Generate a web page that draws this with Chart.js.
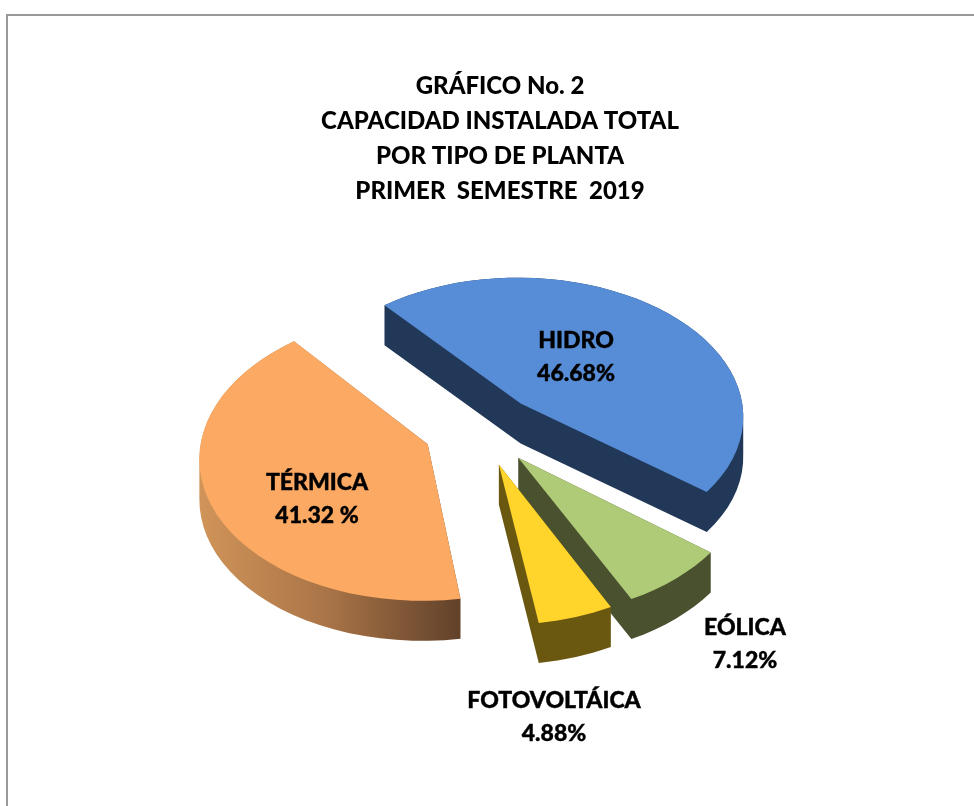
<!DOCTYPE html>
<html>
<head>
<meta charset="utf-8">
<style>
html,body{margin:0;padding:0;background:#fff;width:974px;height:806px;overflow:hidden}
#frame{position:absolute;left:6px;top:14px;width:974px;height:800px;border-left:2px solid #999;border-top:2px solid #999}
canvas{position:absolute;left:0;top:0}
</style>
<script src="https://cdn.jsdelivr.net/npm/chart.js@4/dist/chart.umd.min.js"></script>
</head>
<body>
<div id="frame"></div>
<canvas id="c" width="974" height="806"></canvas>
<script>
const titleLines = ["GRÁFICO No. 2","CAPACIDAD INSTALADA TOTAL","POR TIPO DE PLANTA","PRIMER  SEMESTRE  2019"];
const categories = ["HIDRO","EÓLICA","FOTOVOLTÁICA","TÉRMICA"];
const values = [46.68,7.12,4.88,41.32];
const valueLabels = ["46.68%","7.12%","4.88%","41.32 %"];
const topColors = ["#568DD6","#AFCB77","#FFD52B","#FBA963"];
const wallColors = ["#223859","#49512F","#6B5810",null];

const view = {shiftX:-19, tilt:0.625, persp:0.085, depth:40, steps:96};
const labelPos = [[576,341],[745,628],[554,701],[317,483]];
const lineGap = 33;

function project(u,v,cx,cy,R){
  const f = 1/(1 - view.persp*v/R);
  return [cx + view.shiftX + u*f, cy + view.tilt*v*f];
}
function area(q){
  let a=0;
  for(let i=0;i<q.length;i++){const n=q[(i+1)%q.length];a+=q[i][0]*n[1]-n[0]*q[i][1];}
  return a;
}
const pie3d = {
  id:'pie3d',
  beforeDatasetsDraw(chart){
    const ctx = chart.ctx;
    const arcs = chart.getDatasetMeta(0).data;
    const polys = arcs.map(arc=>{
      const p = arc.getProps(['x','y','startAngle','endAngle','outerRadius'],true);
      const off = arc.options.offset, mid=(p.startAngle+p.endAngle)/2;
      const ax = Math.cos(mid)*off, ay = Math.sin(mid)*off, R=p.outerRadius;
      const pts=[project(ax,ay,p.x,p.y,R)];
      const n = Math.max(8,Math.round(view.steps*(p.endAngle-p.startAngle)/(2*Math.PI)));
      for(let i=0;i<=n;i++){
        const t=p.startAngle+(p.endAngle-p.startAngle)*i/n;
        pts.push(project(ax+R*Math.cos(t),ay+R*Math.sin(t),p.x,p.y,R));
      }
      return pts;
    });
    const addPoly=(q)=>{
      const pts = area(q)<0 ? q.slice().reverse() : q;
      pts.forEach((s,i)=> i?ctx.lineTo(s[0],s[1]):ctx.moveTo(s[0],s[1]));
      ctx.closePath();
    };
    const grad = ctx.createLinearGradient(202,0,458,0);
    grad.addColorStop(0,'#D09459');
    grad.addColorStop(0.5,'#A87347');
    grad.addColorStop(1,'#62422A');
    polys.forEach((pts,i)=>{
      ctx.fillStyle = wallColors[i] || grad;
      ctx.beginPath();
      pts.forEach((a,j)=>{
        const b=pts[(j+1)%pts.length];
        addPoly([[a[0],a[1]],[b[0],b[1]],[b[0],b[1]+view.depth],[a[0],a[1]+view.depth]]);
      });
      addPoly(pts.map(q=>[q[0],q[1]+view.depth]));
      ctx.fill('nonzero');
      ctx.fillStyle = topColors[i];
      ctx.beginPath();
      addPoly(pts);
      ctx.fill();
    });
    ctx.save();
    ctx.fillStyle='#000';
    ctx.strokeStyle='#000';
    ctx.lineWidth=0.4;
    ctx.font='900 23px Lato';
    ctx.textAlign='center';
    ctx.textBaseline='middle';
    categories.forEach((c,i)=>{
      [c,valueLabels[i]].forEach((t,k)=>{
        ctx.fillText(t,labelPos[i][0],labelPos[i][1]+k*lineGap);
        ctx.strokeText(t,labelPos[i][0],labelPos[i][1]+k*lineGap);
      });
    });
    ctx.restore();
    return false;
  }
};
new Chart(document.getElementById('c'),{
  type:'pie',
  data:{labels:categories,datasets:[{data:values,backgroundColor:topColors,borderWidth:0,offset:58}]},
  options:{
    responsive:false,animation:false,
    rotation:-40,radius:225,
    layout:{padding:{left:26,right:0,top:0,bottom:156}},
    plugins:{
      legend:{display:false},
      tooltip:{enabled:false},
      title:{display:true,text:titleLines,color:'#000',
        font:{family:'Lato',weight:'900',size:24,lineHeight:1.45},
        padding:{top:69,bottom:0}}
    }
  },
  plugins:[pie3d]
});
</script>
</body>
</html>
